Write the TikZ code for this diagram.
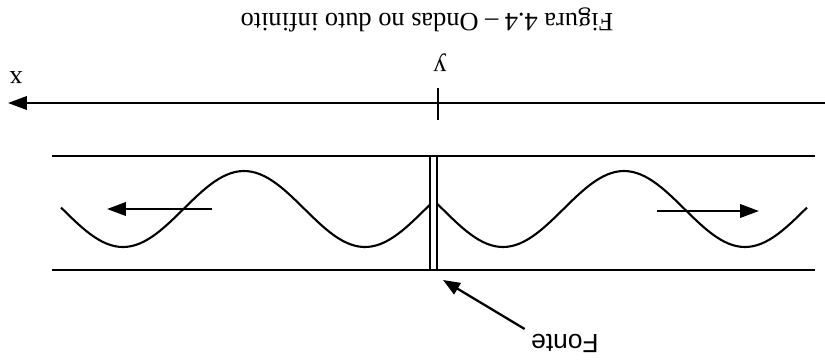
\documentclass[tikz,border=0pt]{standalone}
\usepackage{fontspec}
\setmainfont{Liberation Serif}
\newfontfamily\fontesans{Liberation Sans}
\usetikzlibrary{positioning, arrows.meta}

\begin{document}
\begin{tikzpicture}[
  x=0.02cm, y=-0.02cm,
  wall/.style={line width=1.3pt},
  wave/.style={line width=1.2pt, line join=round},
  arr/.style={line width=1.3pt, -{Triangle[length=0.38cm, width=0.27cm]}},
  flip/.style={rotate=180, inner sep=1pt},
  srcbox/.style={draw, line width=1.2pt, fill=white, minimum width=0.14cm,
                 minimum height=2.28cm, inner sep=0pt},
]
\useasboundingbox (0,0) rectangle (825,363);

% Caption (printed upside down)
\node[flip, font=\fontsize{15}{18}\selectfont] (caption) at (427,20)
  {Figura 4.4 – Ondas no duto infinito};

% Axis with tick
\coordinate (xstart) at (825,103);
\coordinate (xtip) at (8,103);
\coordinate (ytop) at (438,88);
\coordinate (ybot) at (438,120);
\draw[arr] (xstart) -- (xtip);
\draw[wall] (ytop) -- (ybot);
\node[flip, font=\fontsize{15}{18}\selectfont] (xlabel) at (16,78) {x};
\node[flip, font=\fontsize{15}{18}\selectfont] (ylabel) at (440,63) {y};

% Duct walls
\coordinate (topL) at (52,156);
\coordinate (topR) at (815,156);
\coordinate (botL) at (52,270);
\coordinate (botR) at (815,270);
\draw[wall] (topL) -- (topR);
\draw[wall] (botL) -- (botR);

% Waves on both sides of the source
\draw[wave] plot[domain=61:430, samples=90] (\x, {209+38*cos(1.4876*(\x-365))});
\draw[wave] plot[domain=437:807, samples=90] (\x, {209+38*cos(1.4876*(\x-503))});

% Source
\node[srcbox] (src) at (433.5,213) {};

% Propagation arrows
\coordinate (leftA) at (212,209);
\coordinate (leftB) at (107,209);
\coordinate (rightA) at (657,211);
\coordinate (rightB) at (759,211);
\draw[arr] (leftA) -- (leftB);
\draw[arr] (rightA) -- (rightB);

% Source label
\node[flip, font=\fontesans\fontsize{15}{18}\selectfont] (fonte) at (565,343) {Fonte};
\coordinate (srcfoot) at (443,280);
\draw[arr, -{Triangle[length=0.34cm, width=0.26cm]}, shorten <=3pt]
  (fonte.south east) -- (srcfoot);

\end{tikzpicture}
\end{document}
